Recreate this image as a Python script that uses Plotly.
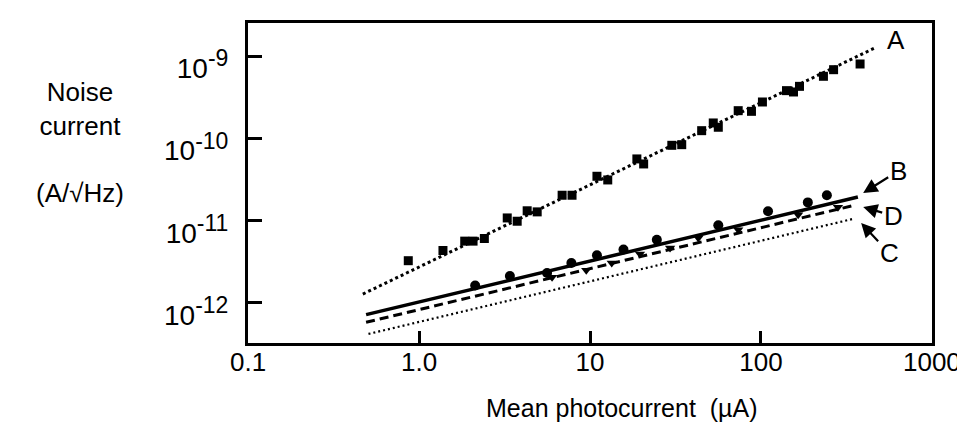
import numpy as np
import plotly.graph_objects as go

# ---- data ----
# Curve A: squares (photocurrent uA, noise A/sqrt(Hz))
a_x = [0.865, 1.38, 1.85, 2.07, 2.41, 3.28, 3.75, 4.29, 4.91, 6.87, 7.85, 10.98, 12.7,
       18.8, 20.6, 30.1, 34.4, 45.0, 52.6, 56.3, 73.6, 88.0, 102, 141, 155, 168, 232, 266, 380]
a_y = [3.26e-12, 4.34e-12, 5.64e-12, 5.64e-12, 6.07e-12, 1.08e-11, 9.85e-12, 1.32e-11, 1.28e-11,
       2.04e-11, 2.04e-11, 3.47e-11, 3.13e-11, 5.64e-11, 4.90e-11, 8.26e-11, 8.41e-11, 1.245e-10,
       1.545e-10, 1.37e-10, 2.18e-10, 2.14e-10, 2.78e-10, 3.82e-10, 3.68e-10, 4.31e-10, 5.71e-10,
       6.87e-10, 8.06e-10]

# Curve B: circles
b_x = [2.13, 3.40, 5.61, 7.78, 10.98, 15.7, 24.6, 56.3, 110, 188, 243]
b_y = [1.63e-12, 2.12e-12, 2.31e-12, 3.06e-12, 3.79e-12, 4.46e-12, 5.87e-12, 8.79e-12,
       1.30e-11, 1.67e-11, 2.04e-11]

# Points lying on curve D
d_x = [6.0, 9.51, 13.4, 19.6, 29.4, 43.0, 73.6, 165, 282]
d_y = [2.05e-12, 2.49e-12, 3.06e-12, 3.94e-12, 4.66e-12, 6.17e-12, 7.76e-12, 1.18e-11, 1.46e-11]

# Fitted lines (end points)
lineA_x = [0.469, 471]
lineA_y = [1.28e-12, 1.285e-9]
lineB_x = [0.49, 369]
lineB_y = [7.2e-13, 1.94e-11]
lineD_x = [0.49, 352]
lineD_y = [5.8e-13, 1.54e-11]
lineC_x = [0.506, 348]
lineC_y = [4.19e-13, 1.055e-11]

x_tickvals = [0.1, 1, 10, 100, 1000]
x_ticktext = ["0.1", "1.0", "10", "100", "1000"]
y_tickvals = [1e-12, 1e-11, 1e-10, 1e-9]
y_exponents = ["-12", "-11", "-10", "-9"]

FONT = "Liberation Sans, Arial, sans-serif"
y_ticktext = ["10<sup><span style='font-size:23px'>%s</span></sup>" % e for e in y_exponents]

fig = go.Figure()
fig.add_trace(go.Scatter(x=lineA_x, y=lineA_y, mode="lines",
                         line=dict(color="black", width=3, dash="dot")))
fig.add_trace(go.Scatter(x=lineB_x, y=lineB_y, mode="lines",
                         line=dict(color="black", width=3.5)))
fig.add_trace(go.Scatter(x=lineD_x, y=lineD_y, mode="lines",
                         line=dict(color="black", width=3, dash="9px,5px")))
fig.add_trace(go.Scatter(x=lineC_x, y=lineC_y, mode="lines",
                         line=dict(color="black", width=2.2, dash="2px,3px")))
fig.add_trace(go.Scatter(x=a_x, y=a_y, mode="markers",
                         marker=dict(symbol="square", size=9, color="black")))
fig.add_trace(go.Scatter(x=b_x, y=b_y, mode="markers",
                         marker=dict(symbol="circle", size=10, color="black")))
fig.add_trace(go.Scatter(x=d_x, y=d_y, mode="markers",
                         marker=dict(symbol="triangle-down", size=9, color="black")))

fig.update_layout(
    width=965, height=429,
    margin=dict(l=240, r=39, t=15, b=94),
    paper_bgcolor="white", plot_bgcolor="white",
    showlegend=False,
    font=dict(family=FONT, color="black", size=24),
)
fig.update_xaxes(type="log", range=[-1.0005, 3.0005],
                 tickvals=x_tickvals, ticktext=x_ticktext,
                 ticks="inside", ticklen=12, tickwidth=2.5, tickcolor="black",
                 showline=True, linewidth=3, linecolor="black", mirror=True,
                 showgrid=False, zeroline=False, ticklabelstandoff=-6,
                 tickfont=dict(size=26, family=FONT, color="black"))
fig.update_yaxes(type="log", range=[-12.488, -8.595],
                 tickvals=y_tickvals, ticktext=y_ticktext,
                 ticks="inside", ticklen=14, tickwidth=2.5, tickcolor="black",
                 showline=True, linewidth=3, linecolor="black", mirror=True,
                 showgrid=False, zeroline=False, ticklabelstandoff=11,
                 ticklabelshift=12,
                 tickfont=dict(size=28, family=FONT, color="black"))

arrow_style = dict(arrowhead=2, arrowsize=1.3, arrowwidth=2.2, arrowcolor="black",
                   font=dict(size=26, family=FONT), xref="x", yref="y", showarrow=True)
annotations = [
    dict(text="Mean photocurrent  (\u00b5A)", xref="paper", yref="paper",
         x=(615 - 240) / 686, y=-(400 - 335) / 320, showarrow=False,
         font=dict(size=25, family=FONT), xanchor="center", yanchor="middle"),
    dict(text="Noise<br>current<br><br>(A/\u221aHz)", xref="paper", yref="paper",
         x=(72 - 240) / 686, y=(335 - 134) / 320, showarrow=False,
         font=dict(size=26, family=FONT), xanchor="center", yanchor="middle", align="center"),
    dict(text="A", x=2.79, y=-8.80, xref="x", yref="y", showarrow=False, font=dict(size=26, family=FONT)),
    dict(text="B", x=2.598, y=-10.663, ax=35, ay=-22, **arrow_style),
    dict(text="D", x=2.598, y=-10.833, ax=30, ay=9, **arrow_style),
    dict(text="C", x=2.586, y=-11.028, ax=28, ay=30, **arrow_style),
]
fig.update_layout(annotations=annotations)

fig.write_html("out.html")
